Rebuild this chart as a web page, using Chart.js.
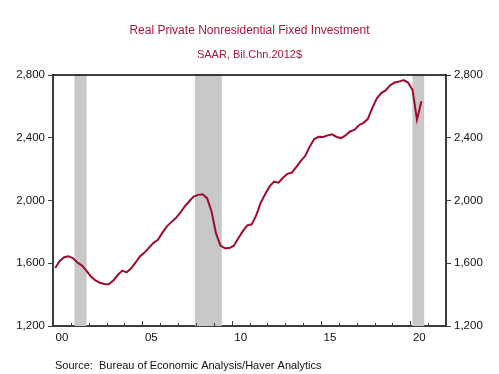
<!DOCTYPE html>
<html>
<head>
<meta charset="utf-8">
<script src="https://cdn.jsdelivr.net/npm/chart.js@4/dist/chart.umd.min.js"></script>
<style>
html,body{margin:0;padding:0;background:#fff;}
canvas{display:block;}
</style>
</head>
<body>
<canvas id="c" width="499" height="374"></canvas>
<script>
// ---- data ----
const startYear = 2000;
const values = [
  1570, 1615, 1638, 1645,   // 2000
  1632, 1604, 1585, 1552,   // 2001
  1515, 1490, 1476, 1468,   // 2002
  1466, 1490, 1525, 1553,   // 2003
  1542, 1568, 1605, 1645,   // 2004
  1668, 1700, 1730, 1750,   // 2005
  1795, 1835, 1862, 1888,   // 2006
  1922, 1962, 1995, 2025,   // 2007
  2036, 2040, 2015, 1930,   // 2008
  1790, 1712, 1695, 1697,   // 2009
  1712, 1760, 1805, 1842,   // 2010
  1848, 1905, 1985, 2040,   // 2011
  2090, 2120, 2114, 2145,   // 2012
  2170, 2178, 2215, 2252,   // 2013
  2285, 2345, 2392, 2406,   // 2014
  2405, 2415, 2422, 2405,   // 2015
  2398, 2415, 2440, 2450,   // 2016
  2480, 2495, 2520, 2590,   // 2017
  2650, 2685, 2702, 2735,   // 2018
  2752, 2758, 2768, 2752,   // 2019
  2705, 2515, 2632          // 2020
];
const recessionStarts = [2001.2, 2007.95, 2020.12];
const recessionEnds   = [2001.88, 2009.45, 2020.78];
const yTicks = [1200, 1600, 2000, 2400, 2800];
const xLabelYears = [2000, 2005, 2010, 2015, 2020];
const titleText = 'Real Private Nonresidential Fixed Investment';
const subtitleText = 'SAAR, Bil.Chn.2012$';
const sourceText = 'Source:  Bureau of Economic Analysis/Haver Analytics';

const points = values.map((v, i) => ({
  x: startYear + Math.floor(i / 4) + ((i % 4) + 0.5) / 4,
  y: v
}));

const FONT = 'Arial, "Liberation Sans", sans-serif';
const LINE_COLOR = '#9E0B2E';
const TITLE_COLOR = '#A8173A';
const AXIS_COLOR = '#3c3c3c';

const recessionPlugin = {
  id: 'recessions',
  beforeDatasetsDraw(chart) {
    const {ctx, chartArea, scales} = chart;
    ctx.save();
    ctx.fillStyle = '#C8C8C8';
    for (let i = 0; i < recessionStarts.length; i++) {
      const x0 = scales.x.getPixelForValue(recessionStarts[i]);
      const x1 = scales.x.getPixelForValue(recessionEnds[i]);
      ctx.fillRect(x0, chartArea.top, x1 - x0, chartArea.bottom - chartArea.top);
    }
    ctx.restore();
  }
};

const framePlugin = {
  id: 'frame',
  afterDraw(chart) {
    const {ctx, chartArea, scales} = chart;
    ctx.save();
    // top border
    ctx.strokeStyle = '#000';
    ctx.lineWidth = 1.5;
    ctx.beginPath();
    ctx.moveTo(chartArea.left, chartArea.top);
    ctx.lineTo(chartArea.right, chartArea.top);
    ctx.stroke();
    // inward x ticks
    ctx.strokeStyle = AXIS_COLOR;
    ctx.lineWidth = 1;
    for (let yr = 2000; yr <= 2022; yr++) {
      const x = Math.round(scales.x.getPixelForValue(yr)) + 0.5;
      const len = (yr % 5 === 0) ? 5 : 3;
      ctx.beginPath();
      ctx.moveTo(x, chartArea.bottom);
      ctx.lineTo(x, chartArea.bottom - len);
      ctx.stroke();
    }
    // source
    ctx.fillStyle = '#111';
    ctx.font = '11px ' + FONT;
    ctx.textAlign = 'left';
    ctx.textBaseline = 'middle';
    ctx.fillText(sourceText, 55, 366);
    ctx.restore();
  }
};

const yAxis = (pos) => ({
  type: 'linear',
  position: pos,
  min: 1200,
  max: 2800,
  afterBuildTicks(scale) { scale.ticks = yTicks.map(v => ({value: v})); },
  afterFit(scale) { scale.width = 53; },
  ticks: {
    color: '#111',
    font: {family: FONT, size: 11.5},
    padding: 3,
    callback: (v) => v.toLocaleString('en-US')
  },
  grid: {drawOnChartArea: false, drawTicks: true, tickLength: 5, color: AXIS_COLOR, lineWidth: 1},
  border: {display: true, color: AXIS_COLOR, width: 2}
});

new Chart(document.getElementById('c'), {
  type: 'line',
  data: {
    datasets: [{
      data: points,
      borderColor: LINE_COLOR,
      borderWidth: 2,
      pointRadius: 0,
      tension: 0,
      fill: false,
      yAxisID: 'y'
    }]
  },
  options: {
    responsive: false,
    animation: false,
    devicePixelRatio: 1,
    layout: {padding: {left: 0, right: 0, top: 0, bottom: 28}},
    plugins: {
      legend: {display: false},
      tooltip: {enabled: false},
      title: {
        display: true,
        text: titleText,
        color: TITLE_COLOR,
        font: {family: FONT, size: 12, weight: 'normal'},
        padding: {top: 23, bottom: 11}
      },
      subtitle: {
        display: true,
        text: subtitleText,
        color: TITLE_COLOR,
        font: {family: FONT, size: 11, weight: 'normal'},
        padding: {top: 0, bottom: 13.4}
      }
    },
    scales: {
      x: {
        type: 'linear',
        min: 2000,
        max: 2022,
        afterBuildTicks(scale) {
          const t = [];
          for (let yr = 2000; yr <= 2022; yr++) t.push({value: yr});
          scale.ticks = t;
        },
        afterFit(scale) { scale.height = 20; },
        ticks: {
          autoSkip: false,
          maxRotation: 0,
          color: '#111',
          font: {family: FONT, size: 11.5},
          padding: 5,
          labelOffset: 9,
          callback: (v) => xLabelYears.includes(v) ? String(v % 100).padStart(2, '0') : ''
        },
        grid: {drawOnChartArea: false, drawTicks: false},
        border: {display: true, color: AXIS_COLOR, width: 2}
      },
      y: yAxis('left'),
      y2: yAxis('right')
    }
  },
  plugins: [recessionPlugin, framePlugin]
});
</script>
</body>
</html>
